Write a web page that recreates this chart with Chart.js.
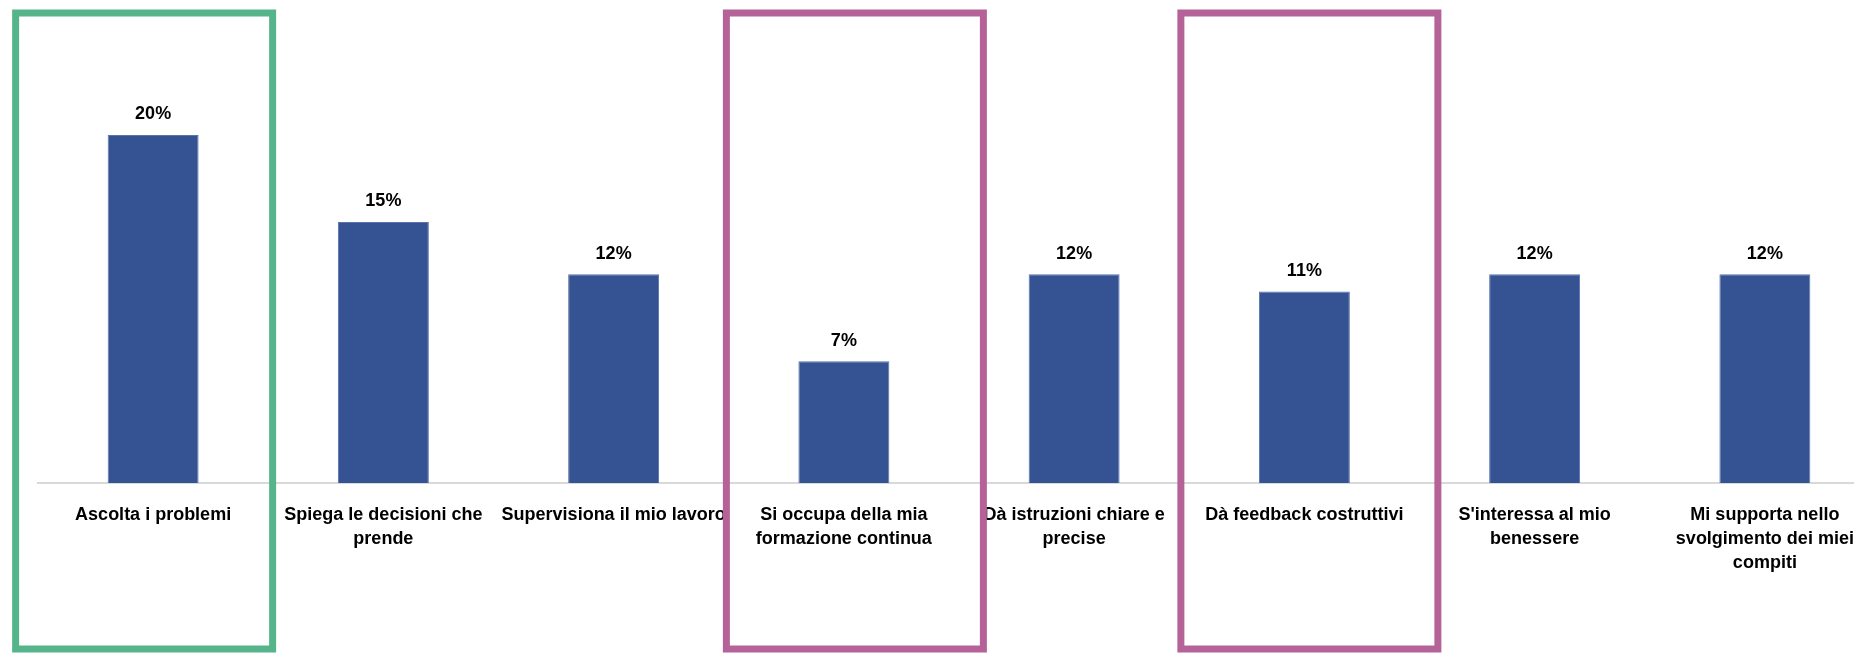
<!DOCTYPE html>
<html>
<head>
<meta charset="utf-8">
<script src="https://cdn.jsdelivr.net/npm/chart.js@4/dist/chart.umd.min.js"></script>
<style>
  html, body { margin: 0; padding: 0; background: #ffffff; overflow: hidden; }
  #wrap { width: 1880px; height: 653px; }
</style>
</head>
<body>
<div id="wrap"><canvas id="c" width="1880" height="653"></canvas></div>
<script>
// ---- data ----
const categories = [
  "Ascolta i problemi",
  ["Spiega le decisioni che", "prende"],
  "Supervisiona il mio lavoro",
  ["Si occupa della mia", "formazione continua"],
  ["Dà istruzioni chiare e", "precise"],
  "Dà feedback costruttivi",
  ["S'interessa al mio", "benessere"],
  ["Mi supporta nello", "svolgimento dei miei", "compiti"]
];
const values = [20, 15, 12, 7, 12, 11, 12, 12];
const highlightIndex = [0, 3, 5];
const highlightColors = ["#55b48a", "#b46298", "#b46298"];

// ---- styles ----
const FONT = "'Liberation Sans', Arial, sans-serif";
const boxOffsets = [-141, -121, -127]; // left edge relative to category centre (px)
const boxWidth = 264;

const valueLabels = {
  id: 'valueLabels',
  afterDatasetsDraw(chart) {
    const ctx = chart.ctx;
    const meta = chart.getDatasetMeta(0);
    ctx.save();
    ctx.font = "bold 18px " + FONT;
    ctx.fillStyle = "#000000";
    ctx.textAlign = "center";
    ctx.textBaseline = "middle";
    meta.data.forEach((bar, i) => {
      ctx.fillText(values[i] + "%", bar.x, bar.y - 20.5);
    });
    ctx.restore();
  }
};

const highlightBoxes = {
  id: 'highlightBoxes',
  afterDraw(chart) {
    const ctx = chart.ctx;
    const xs = chart.scales.x;
    ctx.save();
    ctx.lineWidth = 7;
    highlightIndex.forEach((idx, k) => {
      const cx = xs.getPixelForValue(idx);
      const left = cx + boxOffsets[k];
      ctx.strokeStyle = highlightColors[k];
      ctx.strokeRect(left + 3.5, 13, boxWidth - 7, 636);
    });
    ctx.restore();
  }
};

new Chart(document.getElementById('c'), {
  type: 'bar',
  data: {
    labels: categories,
    datasets: [{
      data: values,
      backgroundColor: "#355393",
      borderColor: "#5a73aa",
      borderWidth: 1,
      barPercentage: 0.395,
      categoryPercentage: 1.0
    }]
  },
  options: {
    responsive: false,
    animation: false,
    devicePixelRatio: 1,
    layout: { padding: { left: 38, top: 48, right: 0, bottom: 0 } },
    plugins: { legend: { display: false }, tooltip: { enabled: false } },
    scales: {
      x: {
        grid: { display: false, drawTicks: false },
        border: { display: true, color: "#d9d9d9", width: 2 },
        ticks: {
          maxRotation: 0, minRotation: 0, autoSkip: false,
          color: "#000000",
          padding: 20,
          font: { family: FONT, size: 18, weight: 'bold', lineHeight: 1.34 }
        },
        afterFit(scale) { scale.height = 170; }
      },
      y: {
        display: false,
        min: 0,
        max: 25
      }
    }
  },
  plugins: [valueLabels, highlightBoxes]
});
</script>
</body>
</html>
